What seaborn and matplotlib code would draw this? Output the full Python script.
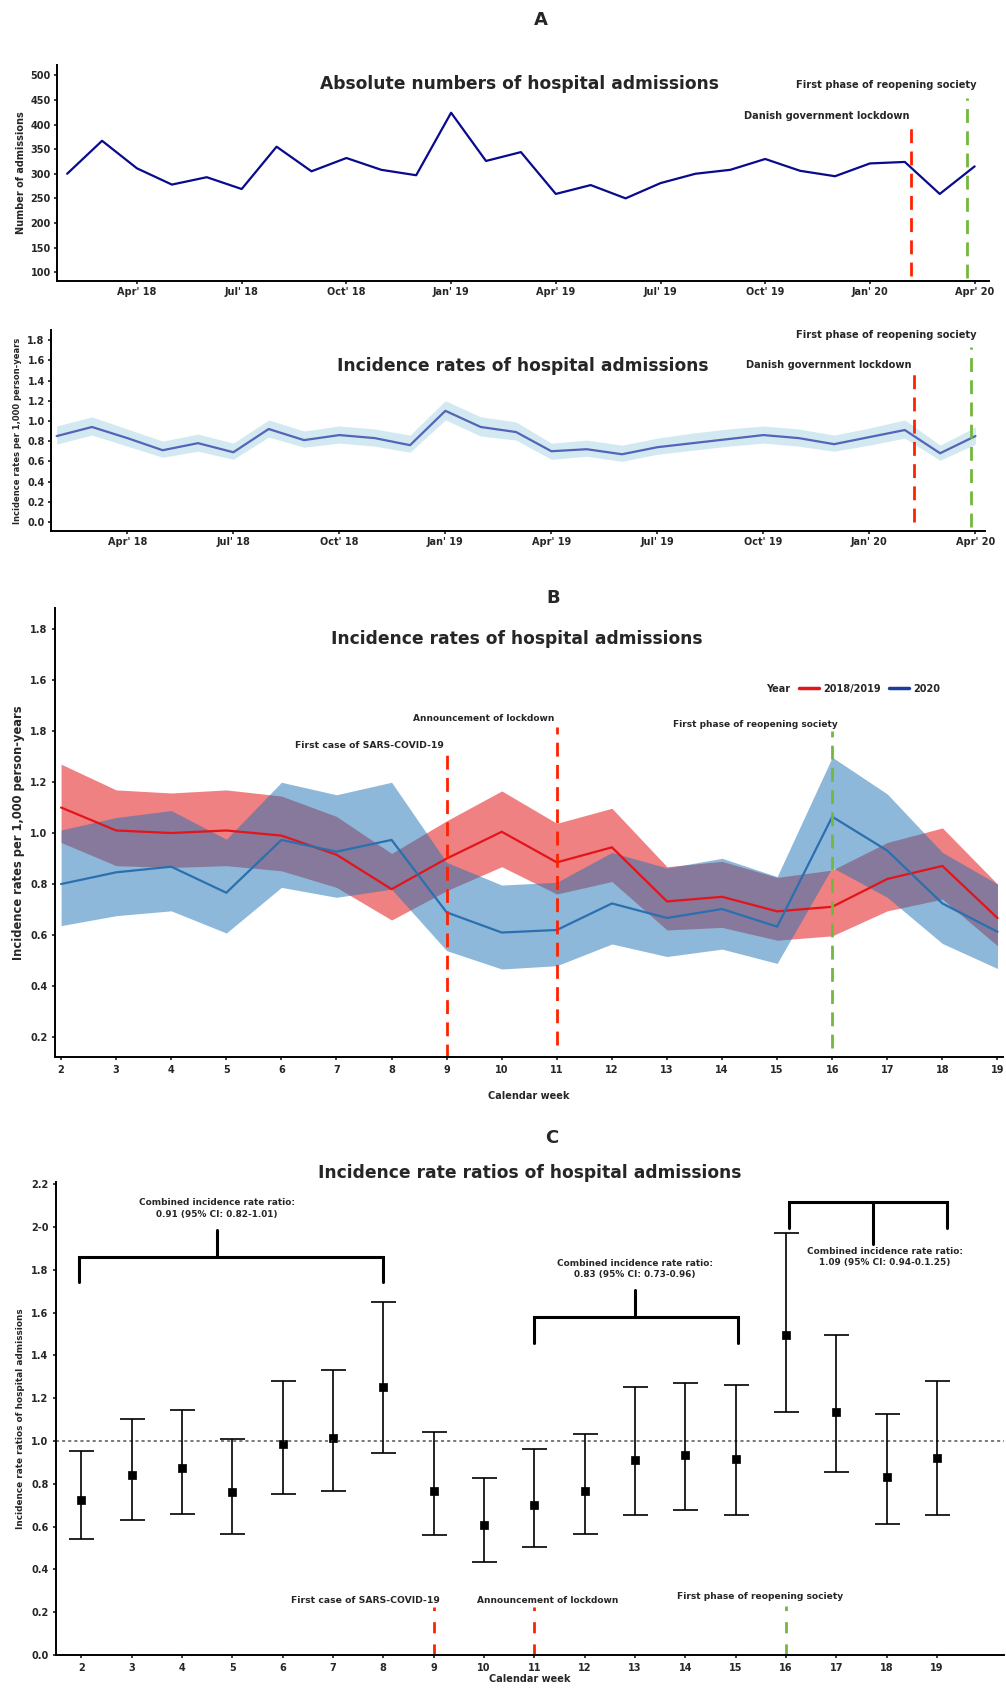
import numpy as np
import pandas as pd
import matplotlib
matplotlib.use("Agg")
import matplotlib.pyplot as plt
from matplotlib.lines import Line2D
import seaborn as sns

# ---- panel A data (monthly, Feb 2018 - Apr 2020) ----
month_idx = list(range(27))
admissions = [300, 367, 311, 278, 293, 269, 355, 305, 332, 308, 297, 424, 326, 344,
              259, 277, 250, 281, 300, 308, 330, 306, 295, 321, 324, 259, 315]
rate = [0.85, 0.94, 0.83, 0.71, 0.78, 0.69, 0.92, 0.81, 0.86, 0.83, 0.76, 1.10, 0.94, 0.89,
        0.70, 0.72, 0.67, 0.74, 0.78, 0.82, 0.86, 0.83, 0.77, 0.84, 0.91, 0.68, 0.85]
rate_lo = [0.77, 0.86, 0.75, 0.64, 0.70, 0.62, 0.84, 0.74, 0.78, 0.75, 0.69, 1.01, 0.85, 0.81,
           0.62, 0.65, 0.60, 0.67, 0.71, 0.75, 0.78, 0.75, 0.70, 0.76, 0.83, 0.61, 0.77]
rate_hi = [0.95, 1.04, 0.92, 0.80, 0.87, 0.78, 1.01, 0.90, 0.95, 0.92, 0.86, 1.20, 1.04, 0.99,
           0.78, 0.81, 0.76, 0.83, 0.88, 0.92, 0.95, 0.92, 0.86, 0.93, 1.01, 0.76, 0.94]
month_ticks = [2, 5, 8, 11, 14, 17, 20, 23, 26]
month_labels = ["Apr' 18", "Jul' 18", "Oct' 18", "Jan' 19", "Apr' 19",
                "Jul' 19", "Oct' 19", "Jan' 20", "Apr' 20"]
lockdown_month = 24.19
reopen_month = 25.77
lockdown_month2 = 24.27
reopen_month2 = 25.88

# ---- panel B data (calendar weeks 2-19) ----
weeks = list(range(2, 20))
red_mid = [1.10, 1.01, 1.00, 1.01, 0.99, 0.915, 0.78, 0.90, 1.005, 0.885, 0.944, 0.732,
           0.75, 0.693, 0.711, 0.82, 0.871, 0.667]
red_hi = [1.27, 1.169, 1.157, 1.169, 1.145, 1.065, 0.92, 1.048, 1.165, 1.038, 1.097, 0.868,
          0.889, 0.826, 0.855, 0.963, 1.02, 0.80]
red_lo = [0.963, 0.872, 0.865, 0.872, 0.852, 0.787, 0.659, 0.774, 0.868, 0.761, 0.81, 0.62,
          0.63, 0.58, 0.597, 0.695, 0.741, 0.558]
blue_mid = [0.80, 0.846, 0.868, 0.766, 0.973, 0.927, 0.973, 0.689, 0.61, 0.62, 0.724, 0.667,
            0.702, 0.633, 1.064, 0.931, 0.724, 0.613]
blue_hi = [1.012, 1.061, 1.088, 0.976, 1.199, 1.15, 1.199, 0.885, 0.796, 0.807, 0.924, 0.863,
           0.901, 0.829, 1.297, 1.153, 0.924, 0.80]
blue_lo = [0.637, 0.676, 0.695, 0.608, 0.787, 0.748, 0.78, 0.539, 0.467, 0.48, 0.565, 0.516,
           0.545, 0.489, 0.865, 0.748, 0.567, 0.469]
b_ticks = [0.2, 0.4, 0.6, 0.8, 1.0, 1.2, 1.4, 1.6, 1.8]
b_labels = ["0.2", "0.4", "0.6", "0.8", "1.0", "1.2", "1.8", "1.6", "1.8"]

# ---- panel C data (incidence rate ratios) ----
irr = [0.725, 0.841, 0.873, 0.762, 0.986, 1.013, 1.25, 0.767, 0.609, 0.701, 0.767, 0.91,
       0.934, 0.915, 1.495, 1.134, 0.831, 0.92]
irr_lo = [0.543, 0.631, 0.659, 0.567, 0.752, 0.767, 0.944, 0.562, 0.437, 0.506, 0.567, 0.656,
          0.678, 0.656, 1.134, 0.855, 0.614, 0.656]
irr_hi = [0.955, 1.103, 1.145, 1.011, 1.28, 1.332, 1.648, 1.04, 0.826, 0.962, 1.031, 1.25,
          1.273, 1.263, 1.973, 1.495, 1.124, 1.278]
c_ticks = [0.0, 0.2, 0.4, 0.6, 0.8, 1.0, 1.2, 1.4, 1.6, 1.8, 2.0, 2.2]
c_labels = ["0.0", "0.2", "0.4", "0.6", "0.8", "1.0", "1.2", "1.4", "1.6", "1.8", "2-0", "2.2"]

RED = "#ff2200"
GREEN = "#72b83f"
TITLE_SIZE = 12.3

sns.set_theme(style="white")
plt.rcParams["font.family"] = ["DejaVu Sans"]
plt.rcParams["font.weight"] = "bold"
plt.rcParams["axes.labelweight"] = "bold"
plt.rcParams["axes.titleweight"] = "bold"
plt.rcParams["axes.linewidth"] = 1.4
plt.rcParams["axes.edgecolor"] = "black"
plt.rcParams["xtick.bottom"] = True
plt.rcParams["ytick.left"] = True
plt.rcParams["xtick.major.size"] = 2.5
plt.rcParams["ytick.major.size"] = 2.5

fig = plt.figure(figsize=(10.06, 16.88), dpi=100)
ax1 = fig.add_axes([0.0567, 0.8335, 0.926, 0.128])
ax2 = fig.add_axes([0.0507, 0.6854, 0.9284, 0.1191])
ax3 = fig.add_axes([0.0547, 0.3738, 0.9423, 0.266])
ax4 = fig.add_axes([0.0557, 0.0195, 0.9423, 0.2803])

fig.text(0.538, 0.988, "A", ha="center", va="center", fontsize=13)
fig.text(0.550, 0.646, "B", ha="center", va="center", fontsize=13)
fig.text(0.548, 0.326, "C", ha="center", va="center", fontsize=13)

# A1: absolute numbers
sns.lineplot(x=month_idx, y=admissions, ax=ax1, color="#0a0a8c", linewidth=1.6)
ax1.vlines(lockdown_month, 92, 400, colors=RED, linestyles=(0, (5, 3)), linewidth=2)
ax1.vlines(reopen_month, 88, 453, colors=GREEN, linestyles=(0, (5, 3)), linewidth=2)
ax1.text(24.13, 418, "Danish government lockdown", ha="right", va="center", fontsize=7.1)
ax1.text(26.05, 480, "First phase of reopening society", ha="right", va="center", fontsize=7.1)
ax1.text(0.496, 0.91, "Absolute numbers of hospital admissions", transform=ax1.transAxes,
         ha="center", va="center", fontsize=TITLE_SIZE)
ax1.set_xlim(-0.29, 26.4)
ax1.set_ylim(82, 521)
ax1.set_yticks(range(100, 501, 50))
ax1.set_xticks(month_ticks)
ax1.set_xticklabels(month_labels)
ax1.set_ylabel("Number of admissions", fontsize=7)
ax1.yaxis.set_label_coords(-0.033, 0.5)
ax1.tick_params(labelsize=7, pad=2)

# A2: incidence rates
ax2.fill_between(month_idx, rate_lo, rate_hi, color="#add8e6", alpha=0.55, linewidth=0)
sns.lineplot(x=month_idx, y=rate, ax=ax2, color="#5563b9", linewidth=1.6)
ax2.vlines(lockdown_month2, 0, 1.47, colors=RED, linestyles=(0, (5, 3)), linewidth=2)
ax2.vlines(reopen_month2, -0.05, 1.73, colors=GREEN, linestyles=(0, (5, 3)), linewidth=2)
ax2.text(24.19, 1.55, "Danish government lockdown", ha="right", va="center", fontsize=7.1)
ax2.text(26.02, 1.85, "First phase of reopening society", ha="right", va="center", fontsize=7.1)
ax2.text(0.505, 0.82, "Incidence rates of hospital admissions", transform=ax2.transAxes,
         ha="center", va="center", fontsize=TITLE_SIZE)
ax2.set_xlim(-0.16, 26.27)
ax2.set_ylim(-0.09, 1.9)
ax2.set_yticks(np.arange(0, 1.81, 0.2))
ax2.set_yticklabels([f"{v:.1f}" for v in np.arange(0, 1.81, 0.2)])
ax2.set_xticks(month_ticks)
ax2.set_xticklabels(month_labels)
ax2.set_ylabel("Incidence rates per 1,000 person-years", fontsize=6)
ax2.yaxis.set_label_coords(-0.031, 0.5)
ax2.tick_params(labelsize=7, pad=2)

# B: weekly incidence rates by year
dfb = pd.DataFrame({
    "week": weeks * 2,
    "rate": red_mid + blue_mid,
    "Year": ["2018/2019"] * len(weeks) + ["2020"] * len(weeks),
})
ax3.fill_between(weeks, red_lo, red_hi, color="#e31a1c", alpha=0.55, linewidth=0)
ax3.fill_between(weeks, blue_lo, blue_hi, color="#1f72b4", alpha=0.5, linewidth=0)
sns.lineplot(data=dfb, x="week", y="rate", hue="Year", ax=ax3,
             palette={"2018/2019": "#e3141a", "2020": "#2a70b0"}, linewidth=1.6, legend=False)
ax3.vlines(9, 0.12, 1.314, colors=RED, linestyles=(0, (5, 3)), linewidth=2)
ax3.vlines(11, 0.17, 1.416, colors=RED, linestyles=(0, (5, 3)), linewidth=2)
ax3.vlines(16, 0.157, 1.40, colors=GREEN, linestyles=(0, (5, 3)), linewidth=2)
ax3.text(8.95, 1.345, "First case of SARS-COVID-19", ha="right", va="center", fontsize=6.7)
ax3.text(10.95, 1.447, "Announcement of lockdown", ha="right", va="center", fontsize=6.5)
ax3.text(16.1, 1.424, "First phase of reopening society", ha="right", va="center", fontsize=6.5)
ax3.text(0.487, 0.931, "Incidence rates of hospital admissions", transform=ax3.transAxes,
         ha="center", va="center", fontsize=TITLE_SIZE)
ax3.text(0.763, 0.82, "Year", transform=ax3.transAxes, ha="center", va="center", fontsize=7)
handles = [Line2D([], [], color="#e3141a", linewidth=2.5), Line2D([], [], color="#1a3f9a", linewidth=2.5)]
ax3.legend(handles, ["2018/2019", "2020"], ncol=2, frameon=False, fontsize=7,
           loc="center left", bbox_to_anchor=(0.776, 0.82), handlelength=2.0,
           columnspacing=0.8, handletextpad=0.5)
ax3.set_xlim(1.89, 19.1)
ax3.set_ylim(0.122, 1.882)
ax3.set_xticks(weeks)
ax3.set_yticks(b_ticks)
ax3.set_yticklabels(b_labels)
ax3.set_xlabel("Calendar week", fontsize=7, labelpad=12)
ax3.set_ylabel("Incidence rates per 1,000 person-years", fontsize=8.3)
ax3.yaxis.set_label_coords(-0.032, 0.5)
ax3.tick_params(labelsize=7, pad=3)

# C: incidence rate ratios
yerr = [np.array(irr) - np.array(irr_lo), np.array(irr_hi) - np.array(irr)]
ax4.axhline(1.0, color="#555555", linestyle=(0, (2, 2)), linewidth=1.1)
ax4.errorbar(weeks, irr, yerr=yerr, fmt="none", ecolor="black", elinewidth=1.2,
             capsize=9, capthick=1.2)
sns.scatterplot(x=weeks, y=irr, ax=ax4, marker="s", color="black", s=40, edgecolor="black")

brackets = [
    # left, right, bar_y, leg_y, stem_x, stem_end
    (1.95, 8.0, 1.859, 1.742, 4.7, 1.985),
    (11.0, 15.05, 1.578, 1.458, 13.0, 1.707),
    (16.05, 19.2, 2.116, 1.993, 17.73, 1.918),
]
for left, right, bar_y, leg_y, stem_x, stem_end in brackets:
    ax4.plot([left, left, right, right], [leg_y, bar_y, bar_y, leg_y], color="black", linewidth=2.2,
             solid_joinstyle="miter")
    ax4.plot([stem_x, stem_x], [bar_y, stem_end], color="black", linewidth=2.2)
ax4.text(4.7, 2.086, "Combined incidence rate ratio:\n0.91 (95% CI: 0.82-1.01)",
         ha="center", va="center", fontsize=6.4, linespacing=1.3)
ax4.text(13.0, 1.803, "Combined incidence rate ratio:\n0.83 (95% CI: 0.73-0.96)",
         ha="center", va="center", fontsize=6.4, linespacing=1.3)
ax4.text(17.96, 1.859, "Combined incidence rate ratio:\n1.09 (95% CI: 0.94-0.1.25)",
         ha="center", va="center", fontsize=6.4, linespacing=1.3)

ax4.vlines(9, 0, 0.224, colors=RED, linestyles=(0, (4, 4)), linewidth=2)
ax4.vlines(11, 0, 0.224, colors=RED, linestyles=(0, (4, 4)), linewidth=2)
ax4.vlines(16, 0, 0.23, colors=GREEN, linestyles=(0, (4, 4)), linewidth=2)
ax4.text(7.64, 0.257, "First case of SARS-COVID-19", ha="center", va="center", fontsize=6.7)
ax4.text(11.27, 0.257, "Announcement of lockdown", ha="center", va="center", fontsize=6.5)
ax4.text(15.48, 0.274, "First phase of reopening society", ha="center", va="center", fontsize=6.6)

ax4.set_title("Incidence rate ratios of hospital admissions", fontsize=TITLE_SIZE, pad=3)
ax4.set_xlim(1.5, 20.33)
ax4.set_ylim(0, 2.21)
ax4.set_xticks(weeks)
ax4.set_yticks(c_ticks)
ax4.set_yticklabels(c_labels)
ax4.set_xlabel("Calendar week", fontsize=7, labelpad=1)
ax4.set_ylabel("Incidence rate ratios of hospital admissions", fontsize=6.4)
ax4.yaxis.set_label_coords(-0.033, 0.5)
ax4.tick_params(labelsize=7, pad=3)

for ax in (ax1, ax2, ax3, ax4):
    sns.despine(ax=ax)

fig.savefig("out.png", dpi=100)
